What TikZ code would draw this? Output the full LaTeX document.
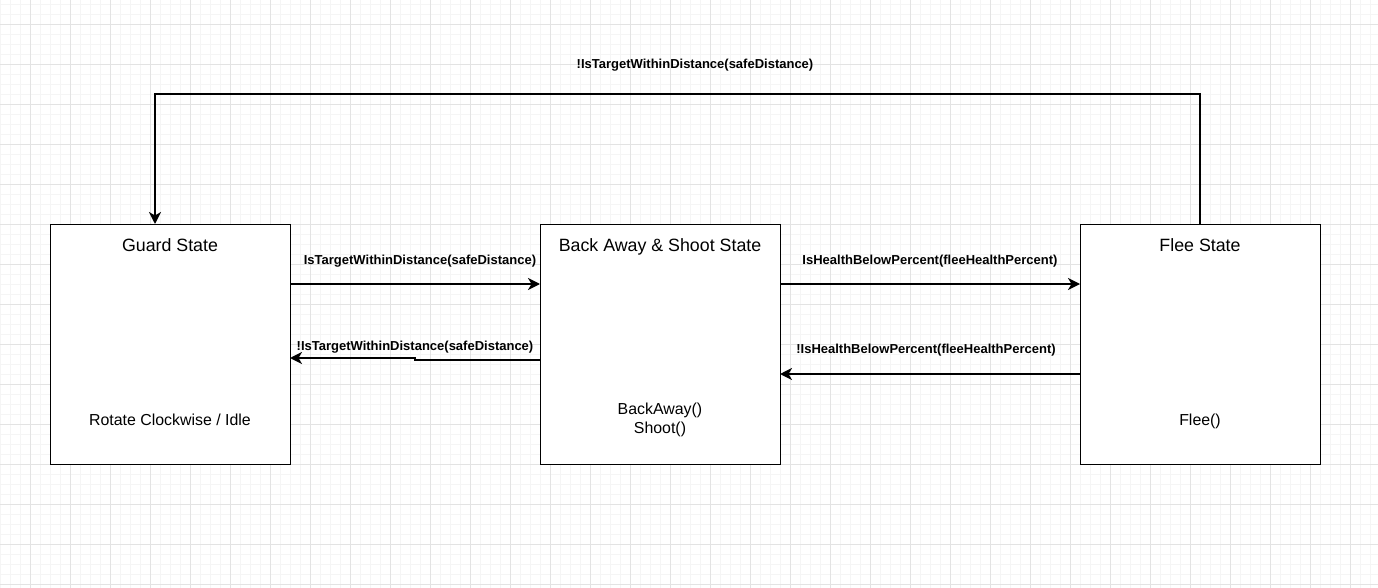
\documentclass[tikz,border=0pt]{standalone}
\usepackage{fontspec}
\setmainfont{Liberation Sans}
\usetikzlibrary{arrows.meta}
\begin{document}
\begin{tikzpicture}[x=1pt,y=-1pt,
  statebox/.style={draw=black, line width=1pt, fill=white,
    minimum width=240pt, minimum height=240pt, inner sep=0pt, outer sep=0pt},
  statetitle/.style={anchor=base, inner sep=0pt, font=\fontsize{17.8}{20}\selectfont},
  statebody/.style={anchor=base, inner sep=0pt, font=\fontsize{15.9}{19}\selectfont},
  cond/.style={anchor=base, inner sep=0pt, font=\bfseries\fontsize{13}{15}\selectfont},
  conn/.style={draw=black, line width=2pt,
    -{Stealth[length=12pt,width=12pt,inset=3.5pt]}},
  gridminor/.style={draw=black!4, line width=1pt},
  gridmajor/.style={draw=black!11, line width=1pt},
]
% canvas and background grid
\useasboundingbox (0,0) rectangle (1378,588);
\fill[white] (0,0) rectangle (1378,588);
\foreach \x in {0.5,10.5,...,1378} \draw[gridminor] (\x,0) -- (\x,588);
\foreach \y in {4.5,14.5,...,588} \draw[gridminor] (0,\y) -- (1378,\y);
\foreach \x in {30.5,70.5,...,1378} \draw[gridmajor] (\x,0) -- (\x,588);
\foreach \y in {24.5,64.5,...,588} \draw[gridmajor] (0,\y) -- (1378,\y);

% states
\node[statebox] (guard) at (170,344) {};
\node[statebox] (bas)   at (660,344) {};
\node[statebox] (flee)  at (1200,344) {};

\node[statetitle] (guardT) at ([yshift=-27pt]guard.north) {Guard State};
\node[statetitle] (basT)   at ([yshift=-27pt]bas.north)   {Back Away \& Shoot State};
\node[statetitle] (fleeT)  at ([yshift=-27pt]flee.north)  {Flee State};

\node[statebody] (guardB) at ([yshift=-201pt]guard.north) {Rotate Clockwise / Idle};
\node[statebody] (basB1)  at ([yshift=-190pt]bas.north)   {BackAway()};
\node[statebody] (basB2)  at ([yshift=-209pt]bas.north)   {Shoot()};
\node[statebody] (fleeB)  at ([yshift=-201pt]flee.north)  {Flee()};

% transitions
\draw[conn] ([yshift=-60pt]guard.north east) -- ([yshift=-60pt]bas.north west);
\coordinate (jog) at (415,358);
\draw[conn] ([yshift=-135.5pt]bas.north west) -| (jog) -- (guard.east |- jog);
\draw[conn] ([yshift=-60pt]bas.north east) -- ([yshift=-60pt]flee.north west);
\draw[conn] ([yshift=-150pt]flee.north west) -- ([yshift=-150pt]bas.north east);
\coordinate (ret) at (155,94);
\draw[conn] (flee.north) |- (ret) -- (guard.north -| ret);

% transition conditions
\node[cond] (c1) at (420,264) {IsTargetWithinDistance(safeDistance)};
\node[cond] (c2) at (415,350) {!IsTargetWithinDistance(safeDistance)};
\node[cond] (c3) at (930,264) {IsHealthBelowPercent(fleeHealthPercent)};
\node[cond] (c4) at (926,353) {!IsHealthBelowPercent(fleeHealthPercent)};
\node[cond] (c5) at (695,69)  {!IsTargetWithinDistance(safeDistance)};
\end{tikzpicture}
\end{document}
